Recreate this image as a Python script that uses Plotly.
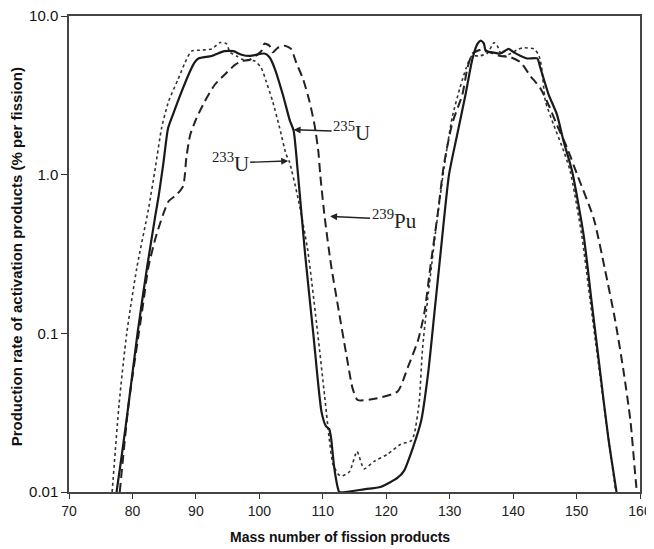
import math
import plotly.graph_objects as go

# ---- data ----
u235_x = [77.5, 78.4, 79.4, 80.8, 82.3, 83.6, 84.1, 84.9, 85.6, 86.4, 87.7, 89.1, 89.8, 90.4,
          92.5, 94.5, 95.9, 97.2, 98.5, 100.8, 101.6, 102.4, 103.7, 104.8, 105.4, 106.1, 107.2,
          108.5, 109.8, 110.5, 111.0, 111.3, 111.8, 112.4, 112.6, 116.5, 119.2, 121.8, 122.8,
          124.2, 125.5, 126.6, 127.6, 128.6, 129.9, 131.2, 132.5, 133.6, 134.4, 134.9, 135.4,
          135.7, 136.7, 138.0, 139.3, 140.1, 141.2, 142.2, 143.8, 144.3, 145.6, 146.9, 148.0,
          149.3, 151.1, 152.4, 153.7, 155.0, 156.3]
u235_y = [0.01, 0.018, 0.036, 0.1, 0.26, 0.55, 0.72, 1.2, 1.95, 2.4, 3.3, 4.5, 5.1, 5.4,
          5.6, 6.0, 6.0, 5.7, 5.6, 5.8, 5.5, 4.7, 3.2, 2.2, 1.9, 1.0, 0.32,
          0.1, 0.032, 0.026, 0.025, 0.022, 0.0143, 0.0105, 0.01, 0.0104, 0.0108, 0.0123, 0.0136,
          0.019, 0.028, 0.056, 0.135, 0.33, 1.0, 1.8, 3.2, 5.4, 6.7, 7.0, 6.7,
          6.0, 5.9, 5.8, 6.2, 5.9, 5.6, 5.4, 5.4, 4.7, 3.2, 2.4, 1.6,
          1.05, 0.42, 0.155, 0.058, 0.022, 0.01]

u233_x = [76.8, 77.9, 79.1, 80.7, 82.5, 83.6, 84.6, 85.7, 87.2, 88.3, 89.3, 91.0, 92.5, 93.8,
          94.8, 95.4, 96.4, 97.5, 99.3, 100.3, 101.1, 102.1, 103.2, 104.2, 104.7, 106.1, 107.6,
          109.2, 110.3, 111.0, 111.6, 112.4, 112.9, 114.2, 115.4, 116.5, 118.1, 120.2, 122.3,
          123.9, 124.4, 125.2, 125.7, 126.5, 127.8, 129.1, 130.4, 131.6, 132.6, 133.5, 134.6,
          135.9, 137.0, 137.5, 138.3, 139.6, 140.9, 141.7, 143.3, 144.1, 144.5, 145.1, 146.4,
          148.0, 149.0, 150.8, 152.2, 153.6, 155.0, 156.2]
u233_y = [0.01, 0.036, 0.1, 0.26, 0.6, 1.1, 1.97, 2.9, 4.0, 5.1, 6.0, 6.1, 6.2, 6.8,
          6.7, 5.9, 5.6, 5.3, 5.2, 4.7, 3.85, 2.9, 1.97, 1.35, 1.22, 0.71, 0.34,
          0.1, 0.04, 0.022, 0.015, 0.013, 0.0126, 0.0134, 0.018, 0.014, 0.0156, 0.0173, 0.02,
          0.021, 0.023, 0.037, 0.078, 0.16, 0.44, 1.1, 2.3, 3.5, 4.7, 5.6, 5.6,
          5.8, 6.8, 6.5, 5.6, 5.8, 6.2, 6.3, 6.2, 5.6, 4.7, 2.9, 2.06,
          1.4, 1.05, 0.42, 0.155, 0.058, 0.022, 0.01]

pu239_x = [78.0, 79.4, 81.0, 81.7, 82.5, 83.8, 85.7, 87.0, 88.0, 88.5, 89.1, 90.1, 91.4, 93.0,
           94.6, 96.1, 97.2, 98.5, 100.3, 100.8, 101.6, 102.1, 102.9, 104.0, 105.0, 105.8,
           106.9, 107.9, 108.7, 109.3, 109.6, 110.3, 111.3, 112.4, 113.7, 114.7, 115.5, 118.6,
           121.8, 123.4, 125.0, 126.0, 127.0, 128.1, 129.1, 130.4, 132.0, 132.8, 133.6, 135.4,
           135.9, 138.0, 139.6, 141.2, 142.7, 144.3, 145.6, 146.9, 148.5, 150.1, 152.7, 154.5,
           156.1, 157.4, 158.5, 159.2, 159.5]
pu239_y = [0.01, 0.036, 0.1, 0.155, 0.26, 0.42, 0.68, 0.75, 0.85, 1.28, 1.78, 2.27, 2.9, 3.7,
           4.3, 4.9, 5.2, 5.3, 6.0, 6.7, 6.5, 5.9, 6.3, 6.5, 6.2, 5.1,
           4.0, 2.9, 2.06, 1.4, 1.0, 0.54, 0.27, 0.148, 0.074, 0.045, 0.038, 0.039,
           0.043, 0.061, 0.09, 0.134, 0.27, 0.56, 1.16, 2.1, 3.2, 4.7, 5.8, 6.2,
           6.0, 5.6, 5.5, 5.1, 4.2, 3.5, 2.75, 2.06, 1.48, 1.0, 0.53, 0.25,
           0.12, 0.058, 0.028, 0.0135, 0.01]

x_ticks = [70, 80, 90, 100, 110, 120, 130, 140, 150, 160]
y_ticks = [0.01, 0.1, 1, 10]
y_tick_text = ["0.01", "0.1", "1.0", "10.0"]

labels = ["<sup>235</sup>U", "<sup>233</sup>U", "<sup>239</sup>Pu"]
label_x = [105.4, 104.55, 111.15]
label_y = [1.92, 1.22, 0.546]

fig = go.Figure()
fig.add_trace(go.Scatter(x=u233_x, y=u233_y, mode="lines", line=dict(color="#333", width=1.6, dash="dot", shape="spline", smoothing=0.6)))
fig.add_trace(go.Scatter(x=pu239_x, y=pu239_y, mode="lines", line=dict(color="#222", width=2, dash="9px,5px", shape="spline", smoothing=0.6)))
fig.add_trace(go.Scatter(x=u235_x, y=u235_y, mode="lines", line=dict(color="#1a1a1a", width=2.2, shape="spline", smoothing=0.6)))

offsets = [(58, 2), (-58, 2), (64, 3)]
for t, xv, yv, (ax, ay) in zip(labels, label_x, label_y, offsets):
    fig.add_annotation(x=xv, y=math.log10(yv), text=t, showarrow=True, ax=ax, ay=ay,
                       arrowhead=2, arrowsize=1, arrowwidth=1.4, arrowcolor="#222",
                       font=dict(family="Liberation Serif, Times New Roman, serif", size=21, color="#222"))

fig.add_annotation(xref="paper", yref="paper", x=0.475, y=-0.095, xanchor="center", yanchor="middle",
                   text="<b>Mass number of fission products</b>",
                   showarrow=False, font=dict(family="Liberation Sans, Arial, sans-serif", size=14, color="#111"))
fig.add_annotation(xref="paper", yref="paper", x=-0.092, y=0.494, xanchor="center", yanchor="middle", textangle=-90,
                   text="<b>Production rate of activation products (% per fission)</b>",
                   showarrow=False, font=dict(family="Liberation Sans, Arial, sans-serif", size=15, color="#111"))

# page body has an 8px default margin, so the figure is sized to fill the rest of the window
fig.update_layout(
    width=646, height=541,
    margin=dict(l=61, r=14, t=8, b=57),
    paper_bgcolor="white", plot_bgcolor="white",
    showlegend=False,
    xaxis=dict(range=[70, 160], tickvals=x_ticks, ticks="outside", ticklen=5, tickcolor="#333",
               automargin=False, ticklabeloverflow="allow",
               showline=True, linecolor="#444", linewidth=1.5, mirror=True, showgrid=False, zeroline=False,
               tickfont=dict(family="Liberation Sans, Arial, sans-serif", size=14, color="#222")),
    yaxis=dict(type="log", range=[-2, 1], tickvals=y_ticks, ticktext=y_tick_text, ticks="outside",
               automargin=False, ticklabeloverflow="allow",
               ticklen=6, tickcolor="#333", showline=True, linecolor="#444", linewidth=1.5, mirror=True,
               showgrid=False, zeroline=False,
               tickfont=dict(family="Liberation Sans, Arial, sans-serif", size=15, color="#111")),
)

fig.write_html("out.html")
